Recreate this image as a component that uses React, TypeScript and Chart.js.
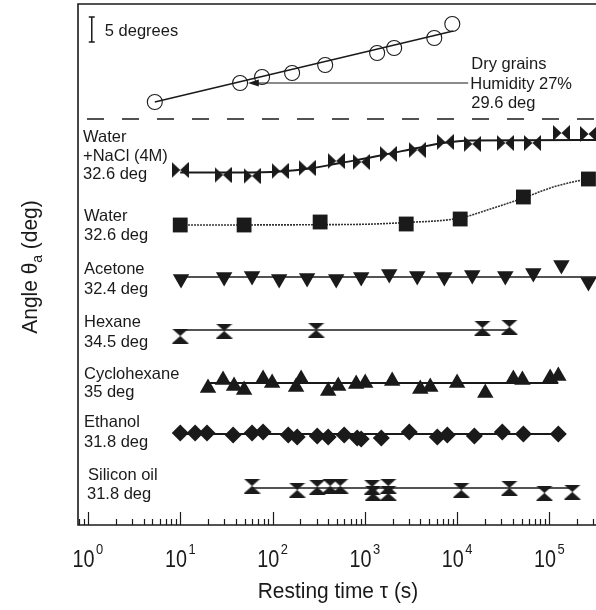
import React, { useEffect, useRef } from "react";
import { Chart, registerables } from "chart.js";

Chart.register(...registerables);

// Resting time tau (s) and shifted contact angle (deg, arbitrary vertical offset per curve)
const dryTau = [5.3, 44.5, 77, 163, 372, 1360, 2080, 5660, 8870];
const dryAngle = [84.6, 88.4, 89.6, 90.4, 92, 94.4, 95.4, 97.4, 100.2];
const dryFitTau = [5.3, 9100];
const dryFitAngle = [84.6, 98.8];

const naclTau = [10, 29.1, 60, 121, 237, 490, 914, 1795, 3700, 7450, 14600, 33300, 65500, 135000, 265000];
const naclAngle = [71, 70, 69.8, 70.8, 71.4, 72.8, 72.6, 74.2, 75, 76.6, 76.2, 76.4, 76.4, 78.4, 78.2];
const naclFitTau = [10, 44.6, 121, 254, 540, 1590, 3700, 7050, 13900, 320000];
const naclFitAngle = [70.5, 70.5, 70.7, 71.3, 72.4, 74, 75.4, 76.4, 76.9, 77];

const waterTau = [10, 49.2, 328, 2810, 10800, 52300, 265000];
const waterAngle = [60, 60, 60.6, 60.2, 61.2, 65.6, 69.2];
const waterFitTau = [9.7, 695, 2810, 10800, 22900, 52300, 110000, 201000, 320000];
const waterFitAngle = [60, 60.1, 60.5, 61.4, 63.2, 65.4, 67.6, 68.8, 69.4];

const acetoneTau = [10.2, 29.9, 60, 118, 237, 490, 914, 1840, 3700, 7270, 14600, 33300, 67000, 135000, 265000];
const acetoneAngle = [49.2, 49.6, 49.8, 49.2, 49.4, 49.2, 49.6, 50.2, 49.8, 49.6, 50, 49.8, 50.4, 52, 48.6];
const acetoneFitTau = [10.2, 320000];
const acetoneFitAngle = [49.6, 49.6];

const hexaneTau = [10, 29.9, 297, 18800, 36800];
const hexaneAngle = [37.8, 38.8, 39, 39.4, 39.6];
const hexaneFitTau = [10, 36800];
const hexaneFitAngle = [39, 39];

const cycloTau = [20, 29.1, 38.3, 49.2, 79, 99, 180, 204, 401, 515, 806, 1010, 1980, 3990, 5120, 10000, 20200, 40700, 51000, 102000, 125000];
const cycloAngle = [27.4, 29, 27.8, 27, 29.2, 28.4, 27.6, 29.2, 26.8, 27.8, 28.2, 28.4, 28.8, 27.2, 27.6, 28.4, 26.4, 29.2, 29, 29.4, 29.8];
const cycloFitTau = [19.6, 125000];
const cycloFitAngle = [28.4, 28.4];

const ethanolTau = [10, 14.5, 19.5, 37.4, 60, 79, 148, 185, 305, 401, 598, 827, 914, 1510, 3030, 6100, 7830, 15400, 30900, 52300, 125000];
const ethanolAngle = [18.4, 18.4, 18.4, 18, 18.4, 18.6, 18, 17.6, 17.8, 17.6, 18, 17.4, 17.2, 17.4, 18.6, 17.6, 18, 17.8, 18.6, 18.2, 18.2];
const ethanolFitTau = [10, 125000];
const ethanolFitAngle = [18.2, 18.2];

const siliconTau = [60, 185, 305, 421, 541, 1200, 1230, 1795, 1795, 11100, 36800, 88300, 177000];
const siliconAngle = [7.8, 7, 7.6, 7.8, 7.8, 7.6, 6.4, 7.8, 6.4, 7, 7.4, 6.4, 6.6];
const siliconFitTau = [60, 177000];
const siliconFitAngle = [7.4, 7.4];

const separatorAngle = 81.2;
const scaleBarTop = 101.6;
const scaleBarTau = 1.1;
const arrowFromTau = 13200;
const arrowToTau = 54;
const arrowAngle = 88.4;

const tickExponents = [0, 1, 2, 3, 4, 5];

const seriesLabels: [string, number, number][] = [
  ["Water", 83, 135.5],
  ["+NaCl (4M)", 83, 154.5],
  ["32.6 deg", 83, 173],
  ["Water", 84, 215],
  ["32.6 deg", 84, 234],
  ["Acetone", 84, 267.5],
  ["32.4 deg", 84, 287.5],
  ["Hexane", 84, 320.5],
  ["34.5 deg", 84, 341],
  ["Cyclohexane", 84, 372.5],
  ["35 deg", 84, 391],
  ["Ethanol", 84, 421],
  ["31.8 deg", 84, 441],
  ["Silicon oil", 88, 474],
  ["31.8 deg", 87, 493],
];

const FONT = '"Liberation Sans", Arial, Helvetica, sans-serif';

function pts(xs: number[], ys: number[]) {
  return xs.map((x, i) => ({ x, y: ys[i] }));
}

function makeMarker(kind: "bowtie" | "hourglass", w: number, h: number) {
  const c = document.createElement("canvas");
  c.width = w;
  c.height = h;
  const ctx = c.getContext("2d")!;
  ctx.fillStyle = "#1a1a1a";
  ctx.beginPath();
  if (kind === "bowtie") {
    ctx.moveTo(0, 0);
    ctx.lineTo(w / 2, h / 2);
    ctx.lineTo(0, h);
    ctx.closePath();
    ctx.moveTo(w, 0);
    ctx.lineTo(w / 2, h / 2);
    ctx.lineTo(w, h);
    ctx.closePath();
  } else {
    ctx.moveTo(0, 0);
    ctx.lineTo(w, 0);
    ctx.lineTo(w / 2, h / 2);
    ctx.closePath();
    ctx.moveTo(0, h);
    ctx.lineTo(w, h);
    ctx.lineTo(w / 2, h / 2);
    ctx.closePath();
  }
  ctx.fill();
  return c;
}

// draw horizontally condensed text, left aligned at x
function condensedText(ctx: CanvasRenderingContext2D, text: string, x: number, y: number, size: number, sx: number) {
  ctx.save();
  ctx.font = `${size}px ${FONT}`;
  ctx.textAlign = "left";
  ctx.translate(x, y);
  ctx.scale(sx, 1);
  ctx.fillText(text, 0, 0);
  ctx.restore();
}

function condensedWidth(ctx: CanvasRenderingContext2D, text: string, size: number, sx: number) {
  ctx.save();
  ctx.font = `${size}px ${FONT}`;
  const w = ctx.measureText(text).width * sx;
  ctx.restore();
  return w;
}

export default function App() {
  const ref = useRef<HTMLCanvasElement>(null);

  useEffect(() => {
    const canvas = ref.current!;
    const bowtie = makeMarker("bowtie", 17, 16);
    const hourglass = makeMarker("hourglass", 17, 15);
    const ink = "#1a1a1a";

    const markerSet = (data: any, style: any, radius: number, extra: any = {}) => ({
      type: "line" as const,
      data,
      showLine: false,
      pointStyle: style,
      pointRadius: radius,
      pointBackgroundColor: ink,
      pointBorderColor: ink,
      pointBorderWidth: 0,
      order: 0,
      ...extra,
    });
    const fitSet = (data: any, extra: any = {}) => ({
      type: "line" as const,
      data,
      borderColor: ink,
      borderWidth: 1.8,
      pointRadius: 0,
      fill: false,
      order: 1,
      ...extra,
    });

    const overlay = {
      id: "overlay",
      afterDraw(chart: any) {
        const ctx = chart.ctx as CanvasRenderingContext2D;
        const xs = chart.scales.x;
        const ys = chart.scales.y;
        const ca = chart.chartArea;
        ctx.save();
        ctx.strokeStyle = ink;
        ctx.fillStyle = ink;
        ctx.textBaseline = "alphabetic";

        // frame
        ctx.lineWidth = 1.6;
        ctx.beginPath();
        ctx.moveTo(ca.right + 2, ca.top);
        ctx.lineTo(ca.left, ca.top);
        ctx.lineTo(ca.left, ca.bottom);
        ctx.lineTo(ca.right + 2, ca.bottom);
        ctx.stroke();

        // inward ticks
        ctx.lineWidth = 1.2;
        for (let e = -1; e <= 6; e++) {
          for (let m = 1; m <= 9; m++) {
            const v = m * Math.pow(10, e);
            if (v < xs.min || v > xs.max) continue;
            const px = Math.round(xs.getPixelForValue(v)) + 0.5;
            const len = m === 1 ? 13 : 6;
            ctx.beginPath();
            ctx.moveTo(px, ca.bottom);
            ctx.lineTo(px, ca.bottom - len);
            ctx.stroke();
          }
        }

        // tick labels 10^n
        const SX = 0.86;
        for (const e of tickExponents) {
          const px = xs.getPixelForValue(Math.pow(10, e));
          const wBase = condensedWidth(ctx, "10", 23, SX);
          const wSup = condensedWidth(ctx, String(e), 15, SX);
          const start = px - (wBase + wSup + 1.5) / 2;
          condensedText(ctx, "10", start, 567, 23, SX);
          condensedText(ctx, String(e), start + wBase + 1.5, 554, 15, SX);
        }

        // x title
        const tSX = 0.93;
        const title = "Resting time \u03c4 (s)";
        const tw = condensedWidth(ctx, title, 22.5, tSX);
        condensedText(ctx, title, 338 - tw / 2, 598, 22.5, tSX);

        // y title with subscript
        ctx.save();
        ctx.translate(37, 267);
        ctx.rotate(-Math.PI / 2);
        const p1 = "Angle \u03b8";
        const p3 = " (deg)";
        const w1 = condensedWidth(ctx, p1, 22.5, tSX);
        const w2 = condensedWidth(ctx, "a", 15, tSX);
        const w3 = condensedWidth(ctx, p3, 22.5, tSX);
        let x0 = -(w1 + w2 + w3) / 2;
        condensedText(ctx, p1, x0, 0, 22.5, tSX);
        x0 += w1;
        condensedText(ctx, "a", x0, 5, 15, tSX);
        x0 += w2;
        condensedText(ctx, p3, x0, 0, 22.5, tSX);
        ctx.restore();

        // dashed separator
        const sy = ys.getPixelForValue(separatorAngle);
        ctx.lineWidth = 1.6;
        ctx.setLineDash([17, 18]);
        ctx.lineDashOffset = 26;
        ctx.beginPath();
        ctx.moveTo(ca.left, sy);
        ctx.lineTo(ca.right, sy);
        ctx.stroke();
        ctx.setLineDash([]);

        // scale bar
        const bx = xs.getPixelForValue(scaleBarTau);
        const by1 = ys.getPixelForValue(scaleBarTop);
        const by2 = ys.getPixelForValue(scaleBarTop - 5);
        ctx.lineWidth = 1.5;
        ctx.beginPath();
        ctx.moveTo(bx, by1);
        ctx.lineTo(bx, by2);
        ctx.moveTo(bx - 3, by1);
        ctx.lineTo(bx + 3, by1);
        ctx.moveTo(bx - 3, by2);
        ctx.lineTo(bx + 3, by2);
        ctx.stroke();
        ctx.font = `16.5px ${FONT}`;
        ctx.textAlign = "left";
        ctx.fillText("5 degrees", bx + 13, (by1 + by2) / 2 + 6);

        // arrow
        const ax1 = xs.getPixelForValue(arrowFromTau);
        const ax2 = xs.getPixelForValue(arrowToTau);
        const ay = ys.getPixelForValue(arrowAngle);
        ctx.lineWidth = 1.2;
        ctx.beginPath();
        ctx.moveTo(ax1, ay);
        ctx.lineTo(ax2 + 8, ay);
        ctx.stroke();
        ctx.beginPath();
        ctx.moveTo(ax2, ay);
        ctx.lineTo(ax2 + 11, ay - 3.5);
        ctx.lineTo(ax2 + 11, ay + 3.5);
        ctx.closePath();
        ctx.fill();

        ctx.font = `16.5px ${FONT}`;
        ctx.fillText("Dry grains", ax1 + 3, 68.5);
        ctx.fillText("Humidity 27%", ax1 + 2, ay + 6);
        ctx.fillText("29.6 deg", ax1 + 3, 107.5);

        for (const [t, x, y] of seriesLabels) {
          ctx.fillText(t, x, y + 6);
        }
        ctx.restore();
      },
    };

    const chart = new Chart(canvas, {
      type: "line",
      data: {
        datasets: [
          markerSet(pts(dryTau, dryAngle), "circle", 7.5, {
            pointBackgroundColor: "rgba(0,0,0,0)",
            pointBorderWidth: 1.1,
          }),
          fitSet(pts(dryFitTau, dryFitAngle), { borderWidth: 1.5 }),
          markerSet(pts(naclTau, naclAngle), bowtie, 8),
          fitSet(pts(naclFitTau, naclFitAngle), { cubicInterpolationMode: "monotone" }),
          markerSet(pts(waterTau, waterAngle), "rect", 10.5),
          fitSet(pts(waterFitTau, waterFitAngle), {
            cubicInterpolationMode: "monotone",
            borderDash: [2, 1],
            borderWidth: 1.6,
            borderColor: "#333",
          }),
          markerSet(pts(acetoneTau, acetoneAngle), "triangle", 9.5, { rotation: 180 }),
          fitSet(pts(acetoneFitTau, acetoneFitAngle), { borderWidth: 1.5 }),
          markerSet(pts(hexaneTau, hexaneAngle), hourglass, 8),
          fitSet(pts(hexaneFitTau, hexaneFitAngle), { borderWidth: 1.5 }),
          markerSet(pts(cycloTau, cycloAngle), "triangle", 9.5),
          fitSet(pts(cycloFitTau, cycloFitAngle)),
          markerSet(pts(ethanolTau, ethanolAngle), "rectRot", 8.5),
          fitSet(pts(ethanolFitTau, ethanolFitAngle)),
          markerSet(pts(siliconTau, siliconAngle), hourglass, 8),
          fitSet(pts(siliconFitTau, siliconFitAngle), { borderWidth: 1.5 }),
        ],
      },
      options: {
        animation: false,
        responsive: false,
        devicePixelRatio: 1,
        layout: { autoPadding: false, padding: { left: 78, top: 4, right: 0, bottom: 85 } },
        plugins: { legend: { display: false }, tooltip: { enabled: false }, title: { display: false } },
        scales: {
          x: { type: "logarithmic", min: 0.78, max: 320000, display: false },
          y: { type: "linear", min: 0, max: 104.2, display: false },
        },
        elements: { line: { tension: 0 } },
      },
      plugins: [overlay],
    } as any);

    return () => chart.destroy();
  }, []);

  return (
    <div style={{ position: "absolute", left: 0, top: 0, width: 596, height: 610, background: "#fff" }}>
      <canvas ref={ref} width={596} height={610} style={{ display: "block" }} />
    </div>
  );
}
